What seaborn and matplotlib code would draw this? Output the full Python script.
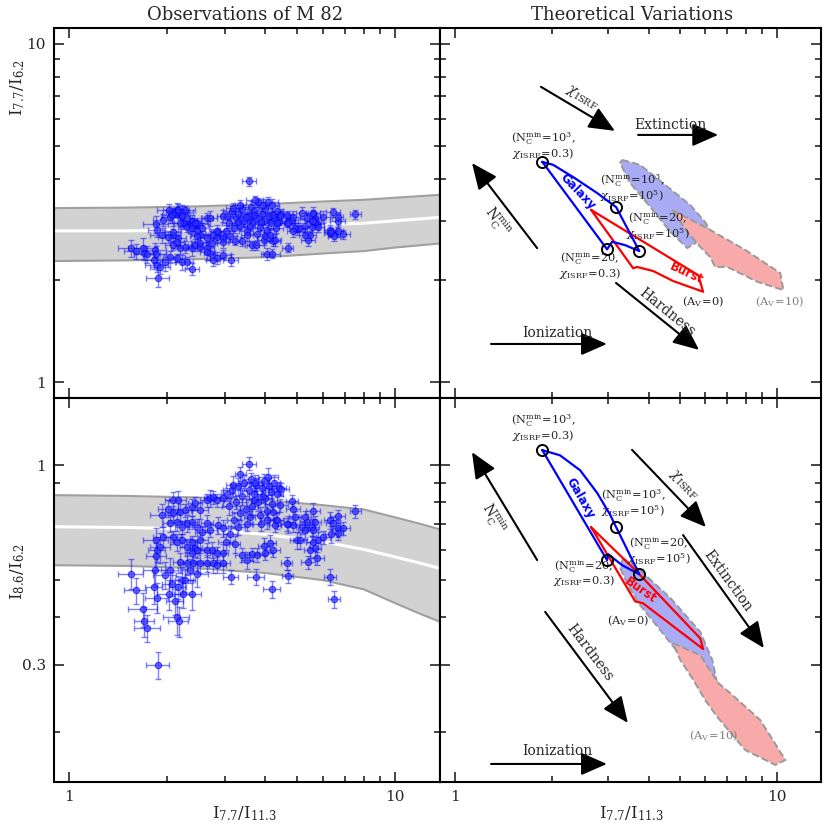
import matplotlib
matplotlib.use("Agg")
import numpy as np
import matplotlib.pyplot as plt
import seaborn as sns
from matplotlib.ticker import FixedLocator, NullFormatter

sns.set_theme(style="ticks")
plt.rcParams['font.family'] = ['DejaVu Serif', 'DejaVu Sans']
plt.rcParams['mathtext.fontset'] = 'dejavuserif'

# ---- observed M82 ratios (read off the picture), grouped by region of the cloud ----
# left tail
tail_x = [1.55, 1.60, 1.69, 1.70, 1.74, 1.83, 1.82, 1.87, 1.86, 1.85, 1.86, 1.94, 1.93, 1.85, 1.90, 1.97]
tail_62 = [2.49, 2.44, 2.49, 2.41, 2.39, 2.46, 2.30, 2.03, 2.22, 2.39, 2.82, 3.02, 2.72, 2.93, 2.19, 2.26]
tail_86 = [0.52, 0.47, 0.42, 0.39, 0.375, 0.53, 0.48, 0.30, 0.45, 0.578, 0.60, 0.65, 0.74, 0.636, 0.61, 0.515]
tail_ex = [9, 8, 10, 7, 9, 8, 6, 8, 8, 7, 6, 7, 8, 9, 7, 8]
tail_e62 = [6, 5, 7, 5, 6, 5, 6, 6, 5, 6, 5, 4, 5, 6, 5, 6]
tail_e86 = [9, 8, 10, 9, 8, 9, 10, 8, 9, 8, 7, 6, 7, 8, 9, 8]

# x between 2 and 3
mid_x = [2.04, 2.07, 2.03, 2.11, 2.14, 2.17, 2.16, 2.22, 2.27, 2.24, 2.38, 2.47, 2.35, 2.19, 2.30,
         2.40, 2.38, 2.52, 2.65, 2.77, 2.85, 2.96, 2.08, 2.16, 2.01, 2.08, 2.19, 2.27, 2.38, 2.43,
         2.52, 2.65, 2.70, 2.85, 2.96, 2.77, 2.04, 2.14, 2.22, 2.30, 2.38, 2.47, 2.56, 2.65, 2.70,
         2.87, 2.96, 2.08, 2.14, 2.22, 2.30, 2.38, 2.43, 2.52, 2.65, 2.74, 2.85, 2.96, 2.47]
mid_62 = [3.08, 3.12, 3.23, 3.18, 3.23, 3.18, 3.23, 3.18, 3.23, 2.96, 2.99, 2.96, 2.91, 2.96, 2.87,
          2.91, 2.91, 2.72, 2.67, 2.72, 2.69, 2.67, 2.72, 2.67, 2.69, 2.54, 2.49, 2.51, 2.49, 2.54,
          2.51, 2.49, 2.41, 2.33, 2.38, 2.30, 2.35, 2.33, 2.26, 2.26, 2.16, 2.80, 2.85, 3.05, 3.05,
          2.78, 2.60, 2.78, 2.60, 3.10, 3.05, 2.86, 2.95, 2.58, 2.42, 2.58, 2.80, 3.10, 2.70]
mid_86 = [0.53, 0.49, 0.46, 0.44, 0.40, 0.39, 0.48, 0.50, 0.50, 0.46, 0.46, 0.52, 0.53, 0.557, 0.554,
          0.554, 0.588, 0.554, 0.554, 0.554, 0.548, 0.554, 0.81, 0.81, 0.77, 0.75, 0.753, 0.762, 0.776, 0.795,
          0.762, 0.81, 0.82, 0.81, 0.82, 0.825, 0.705, 0.709, 0.688, 0.705, 0.709, 0.688, 0.668, 0.705, 0.676,
          0.696, 0.684, 0.648, 0.628, 0.636, 0.61, 0.628, 0.606, 0.636, 0.60, 0.60, 0.588, 0.588, 0.60]
mid_ex = [6, 7, 8, 6, 9, 7, 6, 8, 7, 6, 7, 8, 6, 5, 6, 7, 5, 6, 7, 5, 6, 5, 5, 6, 7, 5, 6, 5, 4, 5,
          6, 5, 4, 5, 6, 5, 5, 6, 5, 4, 5, 6, 5, 4, 5, 5, 4, 6, 5, 6, 5, 4, 5, 6, 5, 4, 5, 4, 5]
mid_e62 = [4, 5, 4, 3, 5, 4, 4, 5, 3, 4, 4, 3, 5, 4, 3, 4, 4, 5, 3, 4, 4, 3, 4, 5, 4, 3, 4, 4, 5, 4,
           3, 4, 5, 4, 3, 4, 4, 3, 5, 4, 4, 3, 4, 4, 5, 3, 4, 4, 3, 5, 4, 4, 3, 4, 5, 3, 4, 4, 3]
mid_e86 = [8, 7, 9, 8, 10, 9, 7, 8, 7, 8, 9, 8, 7, 6, 7, 6, 5, 6, 5, 6, 5, 6, 5, 6, 5, 4, 5, 4, 5, 4,
           5, 4, 5, 4, 5, 4, 5, 5, 4, 5, 4, 5, 4, 5, 4, 5, 5, 4, 5, 4, 5, 4, 5, 5, 4, 5, 4, 6, 5]

# dense core, x between 3 and 4.5
core_x = [3.56, 4.08, 3.05, 3.10, 3.15, 3.20, 3.25, 3.30, 3.35, 3.40, 3.45, 3.50, 3.55, 3.60, 3.65,
          3.70, 3.75, 3.80, 3.85, 3.90, 3.95, 4.00, 4.05, 4.10, 4.15, 4.20, 4.25, 4.30, 4.35, 4.40,
          4.47, 3.12, 3.22, 3.39, 3.51, 3.64, 3.74, 3.78, 3.95, 3.98, 4.13, 4.22, 4.18, 3.13, 4.22,
          4.05, 4.28, 4.35, 4.43, 3.30, 3.48, 3.68, 3.88, 3.18, 3.58, 3.02, 3.35, 3.72, 3.92]
core_62 = [3.93, 3.40, 3.10, 2.95, 3.20, 2.85, 3.05, 3.15, 2.90, 3.25, 3.00, 2.80, 3.10, 3.30, 2.95,
           3.20, 3.05, 3.40, 2.88, 3.15, 3.00, 3.25, 2.39, 3.10, 2.95, 3.35, 3.05, 2.85, 3.20, 3.00,
           3.15, 2.70, 2.62, 2.61, 2.72, 2.54, 2.54, 2.75, 2.63, 2.70, 2.72, 2.61, 2.40, 2.30, 3.12,
           2.82, 2.63, 2.95, 3.10, 2.98, 3.08, 3.12, 2.98, 3.28, 2.90, 2.80, 3.35, 3.45, 3.35]
core_86 = [1.01, 0.93, 0.84, 0.78, 0.86, 0.72, 0.80, 0.88, 0.75, 0.83, 0.90, 0.70, 0.86, 0.92, 0.78,
           0.84, 0.89, 0.80, 0.74, 0.87, 0.91, 0.82, 0.76, 0.88, 0.85, 0.79, 0.90, 0.72, 0.84, 0.87,
           0.865, 0.66, 0.62, 0.582, 0.564, 0.585, 0.51, 0.582, 0.614, 0.588, 0.625, 0.60, 0.474, 0.51, 0.753,
           0.718, 0.696, 0.718, 0.786, 0.69, 0.77, 0.81, 0.70, 0.89, 0.73, 0.63, 0.95, 0.90, 0.83]
core_ex = [5, 7, 4, 5, 6, 5, 4, 5, 6, 5, 4, 5, 6, 6, 4, 5, 4, 5, 6, 5, 4, 5, 4, 5, 6, 5, 4, 5, 4, 5,
           6, 5, 4, 5, 4, 5, 6, 5, 4, 5, 4, 5, 6, 5, 4, 5, 4, 5, 6, 5, 4, 5, 6, 5, 4, 5, 4, 6, 4]
core_e62 = [3, 4, 3, 3, 4, 3, 3, 4, 3, 3, 4, 3, 3, 4, 3, 3, 4, 3, 3, 4, 3, 3, 4, 3, 3, 4, 3, 3, 4, 3,
            3, 4, 3, 3, 4, 3, 3, 4, 3, 3, 4, 3, 3, 4, 3, 3, 4, 3, 3, 4, 3, 3, 4, 3, 3, 4, 3, 3, 4]
core_e86 = [4, 6, 4, 5, 4, 5, 4, 5, 4, 5, 5, 4, 5, 4, 5, 4, 4, 5, 5, 4, 4, 5, 4, 5, 4, 4, 5, 4, 5, 4,
            4, 5, 5, 4, 5, 4, 5, 4, 5, 4, 5, 4, 5, 4, 4, 5, 4, 5, 4, 5, 4, 5, 4, 5, 4, 5, 4, 5, 4]

# right-hand group, x above 4.5
right_x = [4.83, 4.99, 4.65, 4.68, 5.40, 5.48, 5.76, 5.68, 5.59, 5.80, 6.00, 6.31, 6.49, 7.54, 6.66,
           6.31, 6.45, 6.66, 6.91, 6.36, 6.66, 5.59, 5.29, 5.37, 5.18, 5.55, 5.68, 4.86, 4.93, 4.68,
           4.86, 5.10, 5.59, 5.29, 4.65]
right_62 = [3.02, 2.84, 2.96, 2.50, 2.63, 2.72, 2.93, 3.06, 3.14, 2.87, 3.08, 2.76, 2.70, 3.14, 2.99,
            2.82, 3.18, 2.80, 2.74, 2.78, 3.08, 3.16, 2.72, 3.06, 3.16, 2.87, 2.98, 3.08, 2.86, 2.96,
            2.80, 2.86, 3.00, 2.90, 3.12]
right_86 = [0.805, 0.636, 0.554, 0.512, 0.557, 0.60, 0.57, 0.606, 0.628, 0.636, 0.648, 0.51, 0.446, 0.758, 0.735,
            0.718, 0.705, 0.684, 0.684, 0.66, 0.664, 0.758, 0.731, 0.709, 0.688, 0.688, 0.709, 0.768, 0.731, 0.701,
            0.696, 0.636, 0.676, 0.676, 0.70]
right_ex = [4, 5, 4, 4, 5, 4, 5, 4, 5, 4, 5, 4, 4, 4, 5, 4, 5, 4, 5, 4, 4, 5, 4, 5, 4, 5, 4, 5, 4, 5,
            4, 5, 4, 5, 4]
right_e62 = [3, 4, 3, 3, 4, 3, 3, 4, 3, 3, 4, 3, 3, 3, 4, 3, 3, 4, 3, 3, 3, 4, 3, 3, 4, 3, 3, 4, 3, 3,
             4, 3, 3, 4, 3]
right_e86 = [4, 5, 4, 4, 4, 5, 4, 5, 4, 5, 4, 5, 5, 4, 4, 5, 4, 5, 4, 5, 4, 5, 4, 5, 4, 5, 4, 5, 4, 5,
             4, 5, 4, 5, 4]

obs_x = np.array(tail_x + mid_x + core_x + right_x)
obs_62 = np.array(tail_62 + mid_62 + core_62 + right_62)
obs_86 = np.array(tail_86 + mid_86 + core_86 + right_86)
obs_ex = np.array(tail_ex + mid_ex + core_ex + right_ex) / 100.0
obs_e62 = np.array(tail_e62 + mid_e62 + core_e62 + right_e62) / 100.0
obs_e86 = np.array(tail_e86 + mid_e86 + core_e86 + right_e86) / 100.0

# ---- model band on the left panels ----
band_x = [0.9, 1.5, 2.5, 4.0, 6.0, 8.0, 10.0, 12.0, 13.7]
band62_mid = [2.80, 2.80, 2.82, 2.87, 2.92, 2.95, 3.00, 3.04, 3.07]
band62_hi = [3.27, 3.28, 3.31, 3.36, 3.42, 3.46, 3.51, 3.55, 3.58]
band62_lo = [2.28, 2.29, 2.31, 2.34, 2.40, 2.44, 2.50, 2.54, 2.57]
band86_mid = [0.690, 0.687, 0.680, 0.659, 0.630, 0.602, 0.575, 0.553, 0.537]
band86_hi = [0.835, 0.831, 0.823, 0.810, 0.786, 0.766, 0.730, 0.701, 0.679]
band86_lo = [0.547, 0.545, 0.537, 0.522, 0.500, 0.473, 0.435, 0.407, 0.389]

# ---- theoretical tracks (right panels) ----
corner_x = [1.87, 3.17, 2.97, 3.74]
corner_62 = [4.48, 3.29, 2.47, 2.44]
corner_86 = [1.095, 0.688, 0.564, 0.518]

galaxy_top_x = [1.87, 2.02, 2.33, 2.77, 3.17, 3.74, 3.38, 3.08, 2.97, 1.87]
galaxy_top_y = [4.48, 4.39, 4.04, 3.62, 3.29, 2.44, 2.54, 2.60, 2.47, 4.48]
galaxy_bot_x = [1.87, 2.12, 2.45, 2.77, 3.04, 3.17, 3.74, 3.31, 2.99, 2.97, 1.87]
galaxy_bot_y = [1.095, 1.062, 0.970, 0.845, 0.740, 0.688, 0.518, 0.547, 0.585, 0.564, 1.095]

burst_top_x = [2.65, 5.70, 5.90, 4.76, 4.13, 3.68, 3.58, 2.65]
burst_top_y = [3.23, 2.07, 1.85, 1.99, 2.13, 2.19, 2.17, 3.23]
burst_bot_x = [2.65, 3.71, 5.78, 5.90, 3.84, 3.63, 2.65]
burst_bot_y = [0.688, 0.522, 0.352, 0.330, 0.435, 0.440, 0.688]

ext_blue_top_x = [3.31, 3.76, 4.50, 5.38, 5.99, 6.30, 5.78, 5.27, 4.67, 4.04, 3.50, 3.26]
ext_blue_top_y = [4.54, 4.39, 3.83, 3.34, 2.97, 2.72, 2.63, 2.49, 2.78, 3.30, 3.88, 4.45]
ext_pink_top_x = [4.73, 6.08, 7.97, 10.24, 10.47, 8.69, 7.01, 6.43, 6.21, 5.78, 5.27]
ext_pink_top_y = [3.23, 2.85, 2.46, 2.10, 1.87, 1.98, 2.19, 2.19, 2.34, 2.51, 2.78]
ext_blue_bot_x = [3.33, 3.76, 4.67, 5.78, 6.30, 6.57, 6.30, 5.58, 5.01, 4.34, 3.76, 3.45, 3.26]
ext_blue_bot_y = [0.571, 0.531, 0.449, 0.366, 0.309, 0.261, 0.258, 0.277, 0.318, 0.370, 0.430, 0.485, 0.538]
ext_pink_bot_x = [4.76, 5.78, 6.57, 7.16, 8.88, 10.62, 9.89, 7.97, 6.53, 5.99, 5.50, 5.01]
ext_pink_bot_y = [0.342, 0.318, 0.269, 0.253, 0.215, 0.169, 0.164, 0.1795, 0.219, 0.2425, 0.274, 0.309]

W = 830.0
fig = plt.figure(figsize=(8.3, 8.3), dpi=100)
ax_tl = fig.add_axes([54 / W, 1 - 398 / W, 386 / W, 370 / W])
ax_tr = fig.add_axes([440 / W, 1 - 398 / W, 381 / W, 370 / W])
ax_bl = fig.add_axes([54 / W, 1 - 782 / W, 386 / W, 384 / W])
ax_br = fig.add_axes([440 / W, 1 - 782 / W, 381 / W, 384 / W])


def style(ax, ylim, ymaj, ymaj_lab, ymin, show_x, show_y):
    ax.set_xscale('log')
    ax.set_yscale('log')
    ax.set_xlim(0.9, 13.7)
    ax.set_ylim(*ylim)
    ax.xaxis.set_major_locator(FixedLocator([1, 10]))
    ax.xaxis.set_minor_locator(FixedLocator([2, 3, 4, 5, 6, 7, 8, 9]))
    ax.xaxis.set_minor_formatter(NullFormatter())
    ax.set_xticklabels(['1', '10'] if show_x else ['', ''])
    ax.yaxis.set_major_locator(FixedLocator(ymaj))
    ax.yaxis.set_minor_locator(FixedLocator(ymin))
    ax.yaxis.set_minor_formatter(NullFormatter())
    ax.set_yticklabels(ymaj_lab if show_y else [''] * len(ymaj))
    ax.tick_params(which='both', direction='in', top=True, right=True, width=1.2,
                   labelsize=11, pad=6)
    ax.tick_params(which='major', length=7.5)
    ax.tick_params(which='minor', length=4)
    for sp in ax.spines.values():
        sp.set_linewidth(1.5)
        sp.set_color('black')
    ax.set_xlabel('')
    ax.set_ylabel('')


top_minor = [2, 3, 4, 5, 6, 7, 8, 9]
bot_minor = [0.2, 0.4, 0.5, 0.6, 0.7, 0.8, 0.9]


def draw_obs(ax, y, ey, bx, bmid, bhi, blo):
    ax.fill_between(bx, blo, bhi, color='#d2d2d2', lw=0, zorder=1)
    ax.plot(bx, bhi, color='#a0a0a0', lw=1.5, zorder=1)
    ax.plot(bx, blo, color='#a0a0a0', lw=1.5, zorder=1)
    ax.plot(bx, bmid, color='white', lw=2.2, zorder=1)
    ax.errorbar(obs_x, y, xerr=obs_x * obs_ex, yerr=y * ey, fmt='none',
                ecolor=(0.1, 0.1, 1.0, 0.55), elinewidth=1.0, capsize=2.4, capthick=1.0, zorder=2)
    sns.scatterplot(x=obs_x, y=y, ax=ax, s=20, color=(0.2, 0.2, 1.0), alpha=0.65,
                    edgecolor='blue', linewidth=0.9, zorder=3, legend=False)


draw_obs(ax_tl, obs_62, obs_e62, band_x, band62_mid, band62_hi, band62_lo)
draw_obs(ax_bl, obs_86, obs_e86, band_x, band86_mid, band86_hi, band86_lo)

style(ax_tl, (0.897, 11.15), [1, 10], ['1', '10'], top_minor, False, True)
style(ax_bl, (0.148, 1.50), [0.3, 1], ['0.3', '1'], bot_minor, True, True)


def draw_model(ax, gx, gy, bx_, by_, cy, blx, bly, pkx, pky):
    ax.fill(blx, bly, facecolor='#a9abf4', edgecolor='#9a9a9a', linestyle='--', linewidth=1.4, zorder=1)
    ax.fill(pkx, pky, facecolor='#f8aaaa', edgecolor='#9a9a9a', linestyle='--', linewidth=1.4, zorder=1)
    sns.lineplot(x=bx_, y=by_, ax=ax, sort=False, estimator=None, color='red', lw=1.6, zorder=3)
    sns.lineplot(x=gx, y=gy, ax=ax, sort=False, estimator=None, color='blue', lw=1.6, zorder=4)
    ax.plot(corner_x, cy, ls='none', marker='o', ms=8, mfc='none', mec='black', mew=1.4, zorder=5)


draw_model(ax_tr, galaxy_top_x, galaxy_top_y, burst_top_x, burst_top_y, corner_62,
           ext_blue_top_x, ext_blue_top_y, ext_pink_top_x, ext_pink_top_y)
draw_model(ax_br, galaxy_bot_x, galaxy_bot_y, burst_bot_x, burst_bot_y, corner_86,
           ext_blue_bot_x, ext_blue_bot_y, ext_pink_bot_x, ext_pink_bot_y)

style(ax_tr, (0.897, 11.15), [1, 10], ['1', '10'], top_minor, False, False)
style(ax_br, (0.148, 1.50), [0.3, 1], ['0.3', '1'], bot_minor, True, False)

arrow_kw = dict(arrowstyle='-|>,head_length=0.8,head_width=0.35', color='black', lw=1.5,
                mutation_scale=20, shrinkA=0, shrinkB=0)


def arrow(ax, start, end):
    ax.annotate('', xy=end, xytext=start, xycoords='axes fraction', textcoords='axes fraction',
                arrowprops=arrow_kw)


lab_N = r'$\mathrm{N_C^{min}}$'
lab_chi = r'$\chi_\mathrm{ISRF}$'
pt1 = r'$(\mathrm{N_C^{min}}\!=\!10^3,$' + '\n' + r'$\chi_\mathrm{ISRF}\!=\!0.3)$'
pt2 = r'$(\mathrm{N_C^{min}}\!=\!10^3,$' + '\n' + r'$\chi_\mathrm{ISRF}\!=\!10^5)$'
pt3 = r'$(\mathrm{N_C^{min}}\!=\!20,$' + '\n' + r'$\chi_\mathrm{ISRF}\!=\!10^5)$'
pt4 = r'$(\mathrm{N_C^{min}}\!=\!20,$' + '\n' + r'$\chi_\mathrm{ISRF}\!=\!0.3)$'
av0 = r'$(\mathrm{A_V}\!=\!0)$'
av10 = r'$(\mathrm{A_V}\!=\!10)$'
small = dict(fontsize=8.2, ha='center', va='center', linespacing=0.9)

# top-right annotations
ax = ax_tr
arrow(ax, (0.265, 0.841), (0.459, 0.722))
ax.text(0.373, 0.811, lab_chi, transform=ax.transAxes, rotation=-31, fontsize=10, ha='center', va='center')
arrow(ax, (0.520, 0.711), (0.730, 0.711))
ax.text(0.604, 0.738, 'Extinction', transform=ax.transAxes, fontsize=10, ha='center', va='center')
arrow(ax, (0.255, 0.405), (0.084, 0.635))
ax.text(0.150, 0.478, lab_N, transform=ax.transAxes, rotation=-53, fontsize=10, ha='center', va='center')
arrow(ax, (0.462, 0.311), (0.680, 0.130))
ax.text(0.596, 0.232, 'Hardness', transform=ax.transAxes, rotation=-39, fontsize=10, ha='center', va='center')
arrow(ax, (0.134, 0.146), (0.438, 0.146))
ax.text(0.307, 0.176, 'Ionization', transform=ax.transAxes, fontsize=10, ha='center', va='center')
ax.text(0.270, 0.681, pt1, transform=ax.transAxes, **small)
ax.text(0.504, 0.568, pt2, transform=ax.transAxes, **small)
ax.text(0.572, 0.465, pt3, transform=ax.transAxes, **small)
ax.text(0.394, 0.359, pt4, transform=ax.transAxes, **small)
ax.text(0.690, 0.259, av0, transform=ax.transAxes, fontsize=8.2, ha='center', va='center')
ax.text(0.892, 0.259, av10, transform=ax.transAxes, fontsize=8.2, ha='center', va='center', color='#808080')
ax.text(2.40, 3.65, 'Galaxy', color='blue', rotation=-46, fontsize=8.5, fontweight='bold',
        family='DejaVu Sans', ha='center', va='center', zorder=6)
ax.text(5.23, 2.09, 'Burst', color='red', rotation=-25, fontsize=8.5, fontweight='bold',
        family='DejaVu Sans', ha='center', va='center', zorder=6)

# bottom-right annotations
ax = ax_br
arrow(ax, (0.255, 0.578), (0.084, 0.859))
ax.text(0.140, 0.685, lab_N, transform=ax.transAxes, rotation=-59, fontsize=10, ha='center', va='center')
arrow(ax, (0.504, 0.865), (0.698, 0.664))
ax.text(0.640, 0.775, lab_chi, transform=ax.transAxes, rotation=-46, fontsize=10, ha='center', va='center')
arrow(ax, (0.638, 0.643), (0.850, 0.349))
ax.text(0.755, 0.523, 'Extinction', transform=ax.transAxes, rotation=-54, fontsize=10, ha='center', va='center')
arrow(ax, (0.276, 0.443), (0.493, 0.154))
ax.text(0.392, 0.338, 'Hardness', transform=ax.transAxes, rotation=-53, fontsize=10, ha='center', va='center')
arrow(ax, (0.134, 0.047), (0.438, 0.047))
ax.text(0.307, 0.082, 'Ionization', transform=ax.transAxes, fontsize=10, ha='center', va='center')
ax.text(0.270, 0.922, pt1, transform=ax.transAxes, **small)
ax.text(0.507, 0.727, pt2, transform=ax.transAxes, **small)
ax.text(0.575, 0.602, pt3, transform=ax.transAxes, **small)
ax.text(0.378, 0.544, pt4, transform=ax.transAxes, **small)
ax.text(0.493, 0.419, av0, transform=ax.transAxes, fontsize=8.2, ha='center', va='center')
ax.text(0.719, 0.120, av10, transform=ax.transAxes, fontsize=8.2, ha='center', va='center', color='#808080')
ax.text(2.45, 0.820, 'Galaxy', color='blue', rotation=-60, fontsize=8.5, fontweight='bold',
        family='DejaVu Sans', ha='center', va='center', zorder=6)
ax.text(3.76, 0.471, 'Burst', color='red', rotation=-35, fontsize=8.5, fontweight='bold',
        family='DejaVu Sans', ha='center', va='center', zorder=6)

# titles and axis labels
fig.text(245 / W, 1 - 15 / W, 'Observations of M 82', fontsize=13, ha='center', va='center')
fig.text(632 / W, 1 - 15 / W, 'Theoretical Variations', fontsize=13, ha='center', va='center')
fig.text(18 / W, 1 - 88 / W, r'$\mathrm{I}_{7.7}/\mathrm{I}_{6.2}$', rotation=90, fontsize=12,
         ha='center', va='center')
fig.text(18 / W, 1 - 572 / W, r'$\mathrm{I}_{8.6}/\mathrm{I}_{6.2}$', rotation=90, fontsize=12,
         ha='center', va='center')
fig.text(245 / W, 1 - 814 / W, r'$\mathrm{I}_{7.7}/\mathrm{I}_{11.3}$', fontsize=12, ha='center', va='center')
fig.text(632 / W, 1 - 814 / W, r'$\mathrm{I}_{7.7}/\mathrm{I}_{11.3}$', fontsize=12, ha='center', va='center')

fig.savefig('out.png', dpi=100, facecolor='white')
